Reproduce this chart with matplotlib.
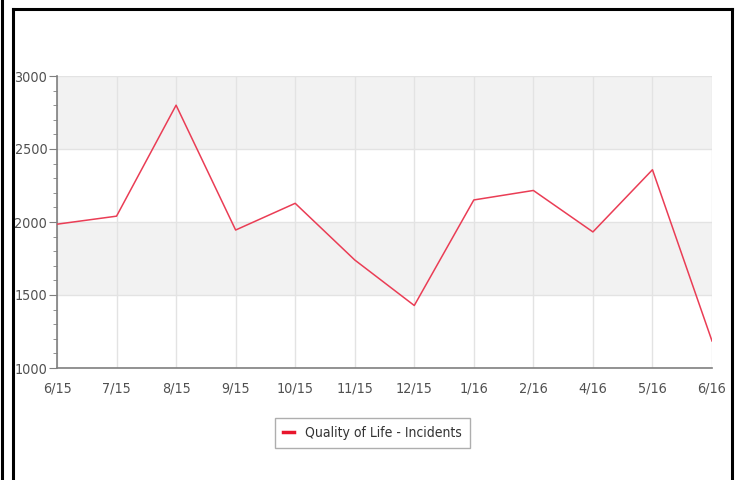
import matplotlib.pyplot as plt
from matplotlib.lines import Line2D
from matplotlib.ticker import MultipleLocator

# --------- data ---------
months = ["6/15", "7/15", "8/15", "9/15", "10/15", "11/15",
          "12/15", "1/16", "2/16", "4/16", "5/16", "6/16"]
incidents = [1985, 2040, 2800, 1945, 2128, 1740,
             1428, 2151, 2216, 1932, 2358, 1185]

band_edges = [1000, 1500, 2000, 2500, 3000]

# --------- figure ---------
plt.rcParams["font.family"] = "DejaVu Sans"
plt.rcParams["font.stretch"] = "condensed"
fig = plt.figure(figsize=(7.39, 4.80), dpi=100)
fig.patch.set_facecolor("white")

ax = fig.add_axes([57 / 739, 1 - 368 / 480, (712 - 57) / 739, (368 - 76) / 480])
x = list(range(len(months)))

# alternating bands
for i in range(len(band_edges) - 1):
    col = "#f2f2f2" if i % 2 == 1 else "white"
    ax.axhspan(band_edges[i], band_edges[i + 1], color=col, zorder=0, lw=0)

ax.plot(x, incidents, color="#ea3d55", lw=1.1, zorder=3,
        label="Quality of Life - Incidents")

ax.set_xlim(0, len(months) - 1)
ax.set_ylim(1000, 3000)
ax.set_xticks(x)
ax.set_xticklabels(months)
ax.yaxis.set_major_locator(MultipleLocator(500))
ax.yaxis.set_minor_locator(MultipleLocator(100))

ax.grid(True, which="major", color="#e3e3e3", lw=1, zorder=1)
ax.set_axisbelow(True)

for s in ["top", "right"]:
    ax.spines[s].set_visible(False)
for s in ["left", "bottom"]:
    ax.spines[s].set_color("#7f7f7f")
    ax.spines[s].set_linewidth(1.2)

ax.tick_params(axis="y", which="major", length=6, color="#7f7f7f",
               labelsize=10.3, labelcolor="#505050", pad=1)
ax.tick_params(axis="y", which="minor", length=3, color="#7f7f7f")
ax.tick_params(axis="x", length=0, labelsize=10.3, labelcolor="#505050", pad=10)
for lbl in ax.get_xticklabels() + ax.get_yticklabels():
    lbl.set_fontstretch("condensed")

# --------- legend ---------
leg = fig.legend(handles=[Line2D([0], [0], color="#e8162c", lw=2.5)],
                 labels=["Quality of Life - Incidents"],
                 loc="center", bbox_to_anchor=(372.5 / 739, 1 - 433 / 480),
                 frameon=True, fancybox=False, fontsize=10,
                 handlelength=0.8, handletextpad=0.8, borderpad=0.6)
leg.get_frame().set_edgecolor("#9a9a9a")
leg.get_frame().set_linewidth(1.0)
for t in leg.get_texts():
    t.set_color("#333333")
    t.set_fontstretch("condensed")

# --------- frame lines ---------
W, H = 739, 480
def px_line(x0, y0, x1, y1, lw):
    fig.add_artist(Line2D([x0 / W, x1 / W], [1 - y0 / H, 1 - y1 / H],
                          color="black", lw=lw, transform=fig.transFigure))

px_line(2, 0, 2, 480, 2.2)
px_line(13, 8.5, 13, 480, 2.2)
px_line(13, 8.5, 732, 8.5, 2.2)
px_line(732, 8.5, 732, 480, 2.2)

fig.savefig("out.png", dpi=100)
